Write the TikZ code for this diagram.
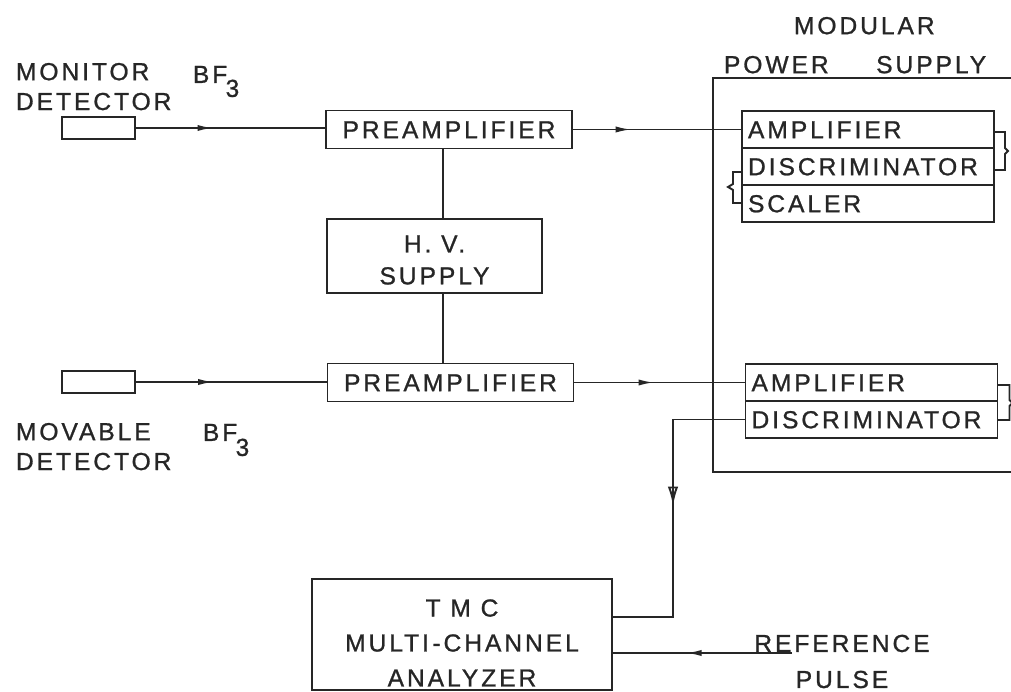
\documentclass[tikz,border=0pt]{standalone}
\usepackage{fontspec}
\setmainfont{Liberation Sans}[LetterSpace=12, FakeBold=1]
\usetikzlibrary{arrows.meta,positioning,decorations.markings}

\colorlet{ink}{black!85}

\begin{document}
\begin{tikzpicture}[
x=0.02cm, y=-0.02cm,
line width=1.1pt, draw=ink, text=ink,
font=\fontsize{14}{17}\selectfont,
box/.style={draw, inner sep=0pt, outer sep=0pt, align=center},
preamp/.style={box, minimum width=4.92cm, minimum height=0.76cm, text height=0.35cm, text depth=0pt},
row/.style={draw, outer sep=0pt, minimum height=0.74cm, text width=4.8cm, inner xsep=0.12cm, align=left, text height=0.35cm, text depth=0pt},
det/.style={draw, outer sep=0pt, minimum width=1.46cm, minimum height=0.45cm},
lbl/.style={inner sep=0pt, align=left, anchor=north west},
flow/.style={postaction={decorate}, decoration={markings, mark=at position #1 with {\arrow{Latex[length=9pt,width=3.5pt]}}}},
downflow/.style={postaction={decorate}, decoration={markings, mark=at position #1 with {\arrow{Latex[open,length=11pt,width=6pt]}}}}
]
\useasboundingbox (0,0) rectangle (1011,692);

\node[lbl] (monlbl) at (15,62) {MONITOR\\DETECTOR};
\node[lbl] (bfA) at (192,65) {BF\kern-1pt\raisebox{-0.28cm}{3}};
\node[lbl] (movlbl) at (15,422) {MOVABLE\\DETECTOR};
\node[lbl] (bfB) at (202,423) {BF\kern-1pt\raisebox{-0.3cm}{3}};
\node[lbl] (modlbl) at (793,16) {MODULAR};
\node[lbl] (pwrlbl) at (723,55) {POWER\hspace{0.95cm}SUPPLY};

\node[det] (detA) at (98.5,128) {};
\node[det] (detB) at (98.5,382) {};

\node[preamp] (preA) at (449,129.5) {PREAMPLIFIER};
\node[preamp] (preB) at (450.5,382.5) {PREAMPLIFIER};
\node[box, minimum width=4.3cm, minimum height=1.48cm, font=\fontsize{14}{18.2}\selectfont] (hv) at (434.5,256) {\rule{0pt}{0.5cm}H. V.\\SUPPLY};

\coordinate (psuTL) at (713,78);
\coordinate (psuBL) at (713,472);
\draw (1011,78) -- (psuTL) -- (psuBL) -- (1011,472);

\node[row] (ampA) at (868,129.5) {AMPLIFIER};
\node[row, below=0pt of ampA] (discA) {DISCRIMINATOR};
\node[row, below=0pt of discA] (scaA) {SCALER};
\node[row] (ampB) at (871.5,382.5) {AMPLIFIER};
\node[row, below=0pt of ampB] (discB) {DISCRIMINATOR};

\node[box, minimum width=6cm, minimum height=2.22cm, font=\fontsize{14}{19.9}\selectfont] (tmc) at (462,634.5) {\rule{0pt}{0.68cm}T M C\\MULTI\kern2pt-CHANNEL\\ANALYZER};
\node[inner sep=0pt, align=center, font=\fontsize{14}{20.5}\selectfont] (reflbl) at (842,661.5) {REFERENCE\\PULSE};

\coordinate (hvx) at (443,0);
\coordinate (bend) at (673,617);
\coordinate (refin) at (792,653);

\draw[flow=0.41] (detA.east) -- (detA.east -| preA.west);
\draw[flow=0.41] (detB.east) -- (detB.east -| preB.west);
\draw[flow=0.35] (preA) -- (ampA);
\draw[flow=0.47] (preB) -- (ampB);
\draw (preA.south -| hvx) -- (hv.north -| hvx);
\draw (hv.south -| hvx) -- (preB.north -| hvx);

\draw ([shift={(0,2.5)}]ampA.east) -- ++(11,0) -- ++(0,16) -- ++(3,3) -- ++(-3,3) -- ++(0,16) -- ++(-11,0);
\draw ([shift={(0,5.5)}]discA.west) -- ++(-9,0) -- ++(0,12) -- ++(-5,3) -- ++(5,3) -- ++(0,13) -- ++(9,0);
\draw ([shift={(0,2.5)}]ampB.east) -- ++(12,0) -- ++(0,15) -- ++(3,3) -- ++(-3,3) -- ++(0,14) -- ++(-12,0);

\draw[downflow=0.48] (discB.west) -| (bend) -- (bend -| tmc.east);
\draw[flow=0.59] (refin) -- (refin -| tmc.east);
\end{tikzpicture}
\end{document}
